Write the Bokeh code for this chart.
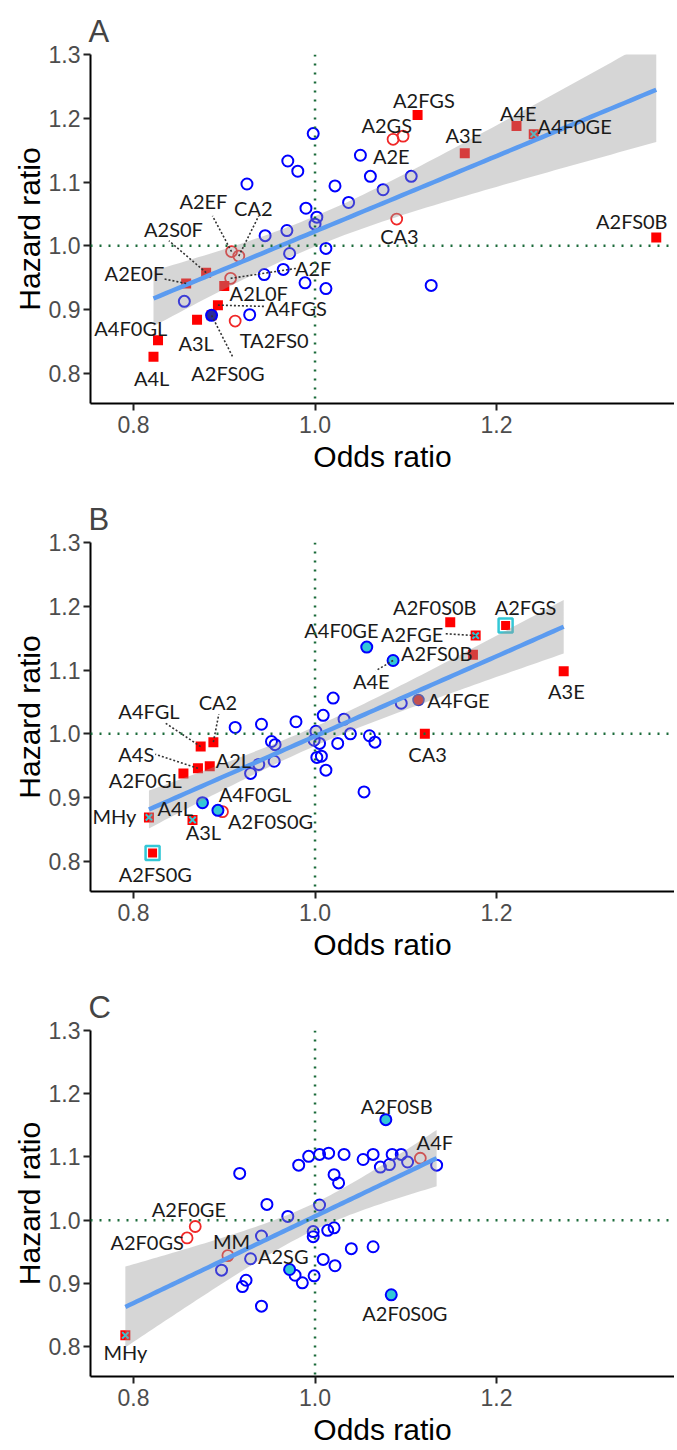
import numpy as np
from bokeh.plotting import figure
from bokeh.layouts import column
from bokeh.models import Range1d, Span, FixedTicker, PrintfTickFormatter
from bokeh.core.properties import value
from bokeh.embed import file_html
from bokeh.resources import INLINE

# ---------------- DATA ----------------
# Panel A: unlabelled variables (blue open circles)
A_circ_or = [0.998, 0.970, 0.981, 0.925, 1.050, 1.061, 1.106, 1.075, 1.022, 1.037, 0.990, 1.002,
             1.000, 0.969, 0.945, 1.012, 0.972, 0.965, 0.944, 0.989, 1.012, 1.128, 0.856, 0.928]
A_circ_hr = [1.176, 1.133, 1.117, 1.097, 1.142, 1.109, 1.109, 1.088, 1.094, 1.068, 1.059, 1.045,
             1.034, 1.024, 1.016, 0.996, 0.988, 0.963, 0.955, 0.942, 0.933, 0.938, 0.913, 0.892]
# Panel A: labelled variables
A_names = ["A2FGS", "A2GS", "A2E", "A3E", "A4E", "A4F0GE", "A2FS0B", "CA3", "A2EF", "CA2",
           "A2S0F", "A2E0F", "A2F", "A2L0F", "A4FGS", "A4F0GL", "A3L", "TA2FS0", "A2FS0G", "A4L"]
A_or = [1.113, 1.086, 1.097, 1.165, 1.222, 1.241, 1.376, 1.090, 0.908, 0.916,
        0.880, 0.858, 0.907, 0.900, 0.893, 0.827, 0.870, 0.912, 0.886, 0.822]
A_hr = [1.205, 1.167, 1.172, 1.145, 1.188, 1.175, 1.013, 1.042, 0.991, 0.984,
        0.958, 0.941, 0.949, 0.937, 0.907, 0.852, 0.884, 0.882, 0.891, 0.826]
A_group = ["sq", "ocirc", "ocirc", "sq", "sq", "sqx", "sq", "ocirc", "ocirc", "ocirc",
           "sq", "sq", "ocirc", "sq", "sq", "sq", "sq", "ocirc", "sqcirc", "sq"]

# Panel B
B_circ_or = [1.020, 1.009, 1.032, 0.979, 0.941, 0.912, 1.001, 1.005, 1.002, 1.007, 1.012, 0.952,
             0.956, 0.955, 0.938, 0.929, 1.025, 1.039, 1.060, 1.066, 1.054, 1.095, 0.999]
B_circ_hr = [1.056, 1.029, 1.023, 1.019, 1.015, 1.010, 1.004, 0.985, 0.963, 0.965, 0.943, 0.988,
             0.983, 0.957, 0.952, 0.938, 0.985, 1.000, 0.997, 0.987, 0.909, 1.048, 0.990]
B_names = ["A2F0S0B", "A2FGS", "A4F0GE", "A2FGE", "A2FS0B", "A4E", "A3E", "A4FGE", "A4FGL", "CA2",
           "CA3", "A4S", "A2L", "A2F0GL", "A4F0GL", "A4L", "MHy", "A2F0S0G", "A3L", "A2FS0G"]
B_or = [1.149, 1.210, 1.057, 1.177, 1.174, 1.086, 1.274, 1.114, 0.874, 0.888,
        1.121, 0.871, 0.884, 0.855, 0.893, 0.876, 0.817, 0.898, 0.865, 0.821]
B_hr = [1.175, 1.170, 1.136, 1.154, 1.124, 1.115, 1.098, 1.053, 0.980, 0.987,
        1.000, 0.946, 0.949, 0.938, 0.880, 0.892, 0.869, 0.878, 0.865, 0.813]
B_group = ["sq", "sqbox", "cyan", "sqx", "sq", "cyan", "sq", "rdot", "sq", "sq",
           "sq", "sq", "sq", "sq", "cyan", "cyan", "sqx", "ocirc", "sqx", "sqbox"]

# Panel C
C_circ_or = [0.917, 0.982, 0.993, 1.005, 1.015, 1.032, 1.053, 1.064, 1.072, 1.082, 1.085, 1.095,
             1.102, 1.134, 1.021, 1.026, 0.947, 1.005, 0.970, 0.941, 0.998, 0.998, 1.014, 1.021,
             1.040, 1.064, 1.009, 1.022, 0.929, 0.897, 0.924, 0.920, 0.941, 0.978, 0.986, 0.999]
C_circ_hr = [1.074, 1.087, 1.101, 1.104, 1.106, 1.104, 1.096, 1.104, 1.084, 1.088, 1.104, 1.104,
             1.092, 1.087, 1.072, 1.059, 1.025, 1.024, 1.006, 0.975, 0.982, 0.974, 0.984, 0.988,
             0.955, 0.958, 0.938, 0.928, 0.939, 0.921, 0.905, 0.895, 0.864, 0.913, 0.901, 0.912]
C_names = ["A2F0SB", "A4F", "A2F0GE", "A2F0GS", "MM", "A2SG", "A2F0S0G", "MHy"]
C_or = [1.078, 1.116, 0.868, 0.859, 0.904, 0.972, 1.084, 0.791]
C_hr = [1.159, 1.098, 0.990, 0.972, 0.944, 0.922, 0.882, 0.818]
C_group = ["cyan", "ocirc", "ocirc", "ocirc", "ocirc", "cyan", "cyan", "sqx"]

x_ticks = [0.8, 1.0, 1.2]
y_ticks = [0.8, 0.9, 1.0, 1.1, 1.2, 1.3]

# ---------------- LAYOUT (label placement) ----------------
A_lab_x = [1.120, 1.079, 1.084, 1.164, 1.224, 1.286, 1.349, 1.093, 0.877, 0.932,
           0.844, 0.801, 0.998, 0.938, 0.979, 0.797, 0.869, 0.955, 0.904, 0.820]
A_lab_y = [1.229, 1.190, 1.141, 1.173, 1.209, 1.188, 1.039, 1.015, 1.070, 1.059,
           1.026, 0.957, 0.965, 0.926, 0.902, 0.871, 0.847, 0.853, 0.800, 0.792]
A_lead = {"A2EF": (0.887, 1.047), "CA2": (0.938, 1.047), "A2S0F": (0.839, 1.008),
          "A2E0F": (0.834, 0.948), "A2F": (0.981, 0.965), "A4FGS": (0.945, 0.905),
          "A2FS0G": (0.910, 0.824)}
B_lab_x = [1.132, 1.232, 1.029, 1.107, 1.134, 1.062, 1.277, 1.158, 0.817, 0.893,
           1.124, 0.803, 0.910, 0.813, 0.934, 0.846, 0.779, 0.951, 0.877, 0.824]
B_lab_y = [1.199, 1.199, 1.163, 1.157, 1.127, 1.083, 1.067, 1.053, 1.036, 1.050,
           0.968, 0.968, 0.959, 0.927, 0.905, 0.883, 0.871, 0.863, 0.846, 0.781]
B_lead = {"A4FGL": (0.835, 1.017), "CA2": (0.894, 1.031), "A4S": (0.824, 0.968),
          "A2FGE": (1.143, 1.157), "A4E": (1.067, 1.099)}
C_lab_x = [1.090, 1.132, 0.861, 0.815, 0.908, 0.965, 1.099, 0.791]
C_lab_y = [1.180, 1.124, 1.017, 0.965, 0.967, 0.943, 0.854, 0.791]
C_lead = {}

RED = "#FF0000"
BLUE = "#0000FF"
CYAN = "#33C7D6"
GREEN = "#1B6B3A"


def smooth(xs, ys, t=2.01, n_grid=80):
    x = np.asarray(xs, float)
    y = np.asarray(ys, float)
    n = len(x)
    b, a = np.polyfit(x, y, 1)
    xm = x.mean()
    sxx = ((x - xm) ** 2).sum()
    s = np.sqrt(((y - (a + b * x)) ** 2).sum() / (n - 2))
    xg = np.linspace(x.min(), x.max(), n_grid)
    yh = a + b * xg
    se = s * np.sqrt(1.0 / n + (xg - xm) ** 2 / sxx)
    return xg, yh, yh - t * se, yh + t * se


def panel(letter, c_or, c_hr, names, ors, hrs, groups, lab_x, lab_y, lead, height, bottom):
    p = figure(width=674, height=height, x_range=Range1d(0.7526, 1.3961),
               y_range=Range1d(0.7528, 1.3), output_backend="svg", toolbar_location=None,
               min_border_left=90, min_border_right=0, min_border_top=54,
               min_border_bottom=bottom)
    p.title.text = letter
    p.title.text_font = "Liberation Sans"
    p.title.text_font_size = "31px"
    p.title.text_font_style = "normal"
    p.title.align = "left"
    p.title.offset = -2
    p.title.standoff = 12
    p.outline_line_color = None
    p.grid.grid_line_color = None
    for ax in (p.xaxis[0], p.yaxis[0]):
        ax.axis_line_width = 2
        ax.axis_line_color = "black"
        ax.major_tick_line_width = 2
        ax.major_tick_line_color = "#222222"
        ax.major_tick_out = 7
        ax.major_tick_in = 0
        ax.minor_tick_line_color = None
        ax.major_label_text_font = "Liberation Sans"
        ax.major_label_text_font_size = "23px"
        ax.major_label_text_color = "#4D4D4D"
        ax.axis_label_text_font = "Liberation Sans"
        ax.axis_label_text_font_size = "30px"
        ax.axis_label_text_font_style = "normal"
        ax.axis_label_text_color = "black"
        ax.formatter = PrintfTickFormatter(format="%.1f")
    p.xaxis.ticker = FixedTicker(ticks=x_ticks)
    p.yaxis.ticker = FixedTicker(ticks=y_ticks)
    p.xaxis.axis_label = "Odds ratio"
    p.yaxis.axis_label = "Hazard ratio"
    p.xaxis.major_label_standoff = 5
    p.yaxis.major_label_standoff = 3
    p.xaxis.axis_label_standoff = 4
    p.yaxis.axis_label_standoff = 0

    for loc, dim in ((1.0, "height"), (1.0, "width")):
        p.add_layout(Span(location=loc, dimension=dim, line_color=GREEN, line_width=2.5,
                          line_dash="2 7"))

    p.scatter(c_or, c_hr, marker="circle", size=11, fill_color=None, line_color=BLUE,
              line_width=2)

    def sel(g):
        idx = [i for i, k in enumerate(groups) if k == g]
        return [ors[i] for i in idx], [hrs[i] for i in idx]

    x, y = sel("ocirc")
    p.scatter(x, y, marker="circle", size=11, fill_color=None, line_color="#F02828", line_width=1.8)
    x, y = sel("cyan")
    p.scatter(x, y, marker="circle", size=11, fill_color=CYAN, line_color=BLUE, line_width=2)
    x, y = sel("rdot")
    p.scatter(x, y, marker="circle", size=11, fill_color="#E02020", line_color="#3040C0",
              line_width=1.5)
    x, y = sel("sq")
    p.scatter(x, y, marker="square", size=10, fill_color=RED, line_color=None)
    x, y = sel("sqx")
    p.scatter(x, y, marker="square", size=10, fill_color=RED, line_color=None)
    p.scatter(x, y, marker="x", size=9, line_color=CYAN, line_width=2)
    x, y = sel("sqbox")
    p.scatter(x, y, marker="square", size=14, fill_color=None, line_color=CYAN, line_width=2.5)
    p.scatter(x, y, marker="square", size=9, fill_color=RED, line_color=None)
    x, y = sel("sqcirc")
    p.scatter(x, y, marker="square", size=10, fill_color=RED, line_color=None)
    p.scatter(x, y, marker="circle", size=11, fill_color="#2A2A9A", line_color=BLUE,
              line_width=2)

    all_x = list(c_or) + list(ors)
    all_y = list(c_hr) + list(hrs)
    xg, yh, lo, hi = smooth(all_x, all_y)
    p.varea(x=xg, y1=lo, y2=hi, fill_color="#999999", fill_alpha=0.4)
    p.line(xg, yh, line_color="#5B9BF0", line_width=4.5)

    x0, y0, x1, y1 = [], [], [], []
    for i, nm in enumerate(names):
        if nm in lead:
            x0.append(ors[i]); y0.append(hrs[i])
            x1.append(lead[nm][0]); y1.append(lead[nm][1])
    if x0:
        p.segment(x0, y0, x1, y1, line_color="#333333", line_width=1.6, line_dash="2 2")

    p.text(x=lab_x, y=lab_y, text=names, text_font=value("Lato"),
           text_font_size=value("20px"), text_align="center", text_baseline="middle",
           text_color="#1A1A1A")
    return p


pA = panel("A", A_circ_or, A_circ_hr, A_names, A_or, A_hr, A_group, A_lab_x, A_lab_y, A_lead, 488, 85)
pB = panel("B", B_circ_or, B_circ_hr, B_names, B_or, B_hr, B_group, B_lab_x, B_lab_y, B_lead, 488, 85)
pC = panel("C", C_circ_or, C_circ_hr, C_names, C_or, C_hr, C_group, C_lab_x, C_lab_y, C_lead, 472, 69)

layout = column(pA, pB, pC, spacing=0)
open("out.html", "w").write(file_html(layout, INLINE))
